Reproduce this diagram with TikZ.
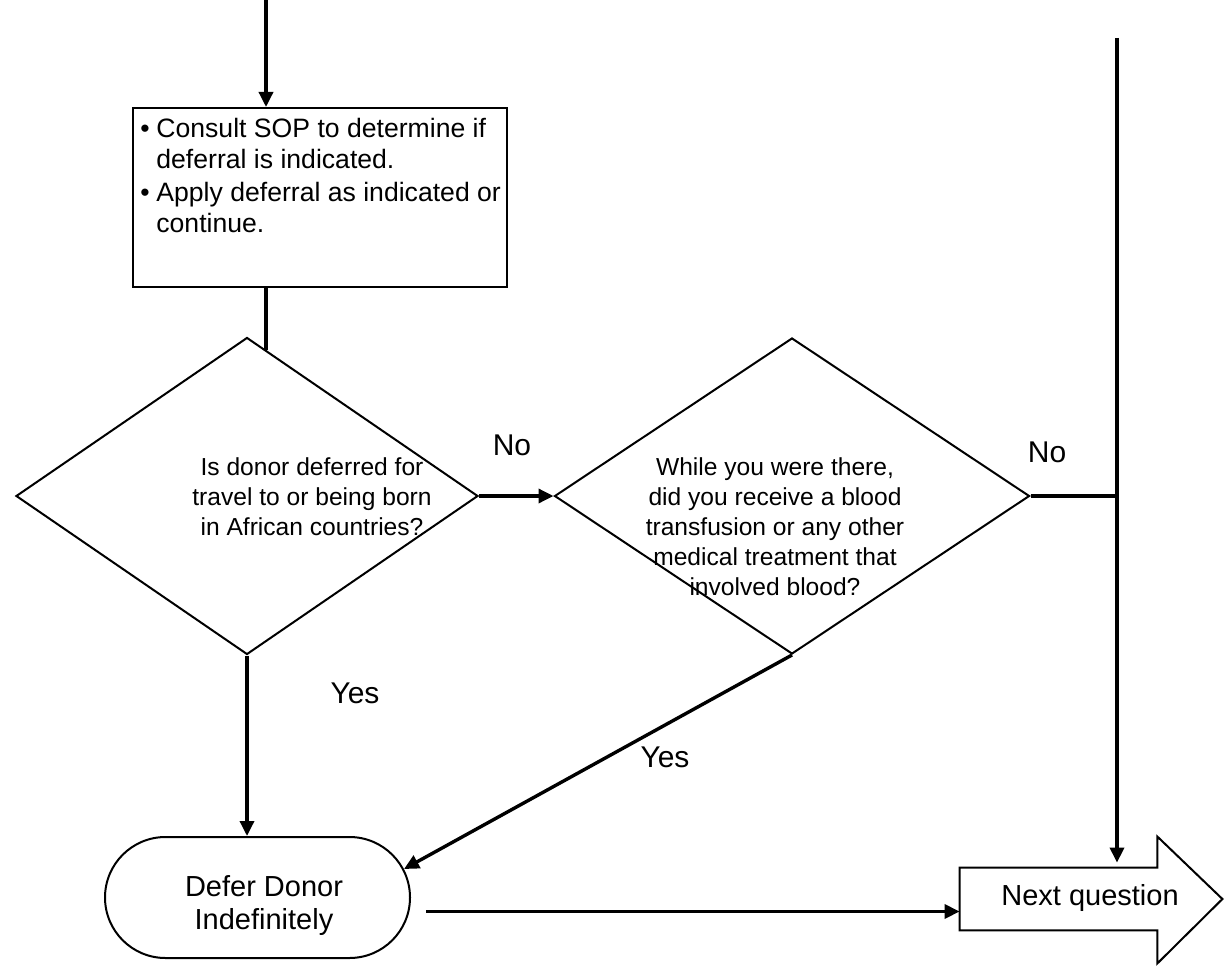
\documentclass[tikz,border=0pt]{standalone}
\usepackage{fontspec}
\setmainfont{Liberation Sans}
\usetikzlibrary{shapes.geometric,shapes.misc,arrows.meta,calc}
\tikzset{
  nd_box/.style={
    rectangle, draw, line width=1pt, inner sep=0pt,
    minimum width=187pt, minimum height=89.5pt},
  nd_dec/.style={
    diamond, draw, line width=1pt, inner sep=0pt},
  nd_term/.style={
    rounded rectangle, draw, line width=1pt, inner sep=0pt,
    minimum width=152.5pt, minimum height=60.5pt},
  nd_next/.style={
    rectangle, inner sep=0pt,
    minimum width=98.5pt, minimum height=31pt},
  txt/.style={inner sep=0pt, align=center,
    font=\fontsize{12.3pt}{15pt}\selectfont},
  lbl/.style={inner sep=0pt, font=\fontsize{15pt}{18pt}\selectfont},
  lnk/.style={line width=1.7pt},
  arr/.style={-{Triangle[length=7.5pt,width=7pt]},line width=1.7pt},
}
\begin{document}
\begin{tikzpicture}[x=0.5pt,y=-0.5pt]
\useasboundingbox (0,0) rectangle (1225,973);

\node[nd_box] (box) at (320,197.5) {};
\node[txt, align=left, anchor=north west, font=\fontsize{13.3pt}{15.5pt}\selectfont]
  (box_txt) at (140,118)
  {\makebox[8pt][l]{\textbullet}Consult SOP to determine if\\
   \hspace*{8pt}deferral is indicated.\\[1pt]
   \makebox[8pt][l]{\textbullet}Apply deferral as indicated or\\
   \hspace*{8pt}continue.};

\node[nd_dec, minimum width=231pt, minimum height=158.5pt] (d1) at (247,496) {};
\node[txt] (d1_txt) at (312,497)
  {Is donor deferred for\\travel to or being born\\in African countries?};

\node[nd_dec, minimum width=237.5pt, minimum height=158pt] (d2) at (792,496) {};
\node[txt] (d2_txt) at (775,527)
  {While you were there,\\did you receive a blood\\transfusion or any other\\medical treatment that\\involved blood?};

\node[nd_term] (term) at (257.5,897.5) {};
\begin{scope}
  \clip (term.north west) rectangle ([yshift=11.5pt]term.south east);
  \node[txt, font=\fontsize{14.5pt}{16.5pt}\selectfont] (term_txt) at (264,906)
    {Defer Donor\\Indefinitely};
\end{scope}

\node[nd_next] (nq) at (1058.5,899) {};
\draw[line width=1pt] (nq.north west) -- (nq.north east)
  -- ([yshift=15.5pt]nq.north east) -- ([xshift=32.5pt]nq.east)
  -- ([yshift=-16.5pt]nq.south east) -- (nq.south east)
  -- (nq.south west) -- cycle;
\node[txt, font=\fontsize{14.5pt}{17pt}\selectfont] (nq_txt) at (1090,898) {Next question};

\coordinate (in_top) at (266,0);
\coordinate (j1) at ($(d1.north)!0.082!(d1.east)$);
\coordinate (v_top) at (1117,38);
\coordinate (t_out) at ([shift={(15,14)}]term.east);

\draw[arr] (in_top) -- (in_top |- box.north);
\draw[lnk] (j1 |- box.south) -- (j1);
\draw[arr] (d1.east) -- (d2.west);
\draw[lnk] (d2.east) -- (d2.east -| v_top);
\draw[arr] (v_top) -- ([yshift=2.5pt]v_top |- nq.north);
\draw[arr] (d1.south) -- (d1.south |- term.north);
\draw[arr] (d2.south) -- (term.11);
\draw[arr] (t_out) -- (t_out -| nq.west);

\node[lbl] (no1) at (512,445) {No};
\node[lbl] (no2) at (1047,452) {No};
\node[lbl] (yes1) at (355,693) {Yes};
\node[lbl] (yes2) at (665,757) {Yes};
\end{tikzpicture}
\end{document}
